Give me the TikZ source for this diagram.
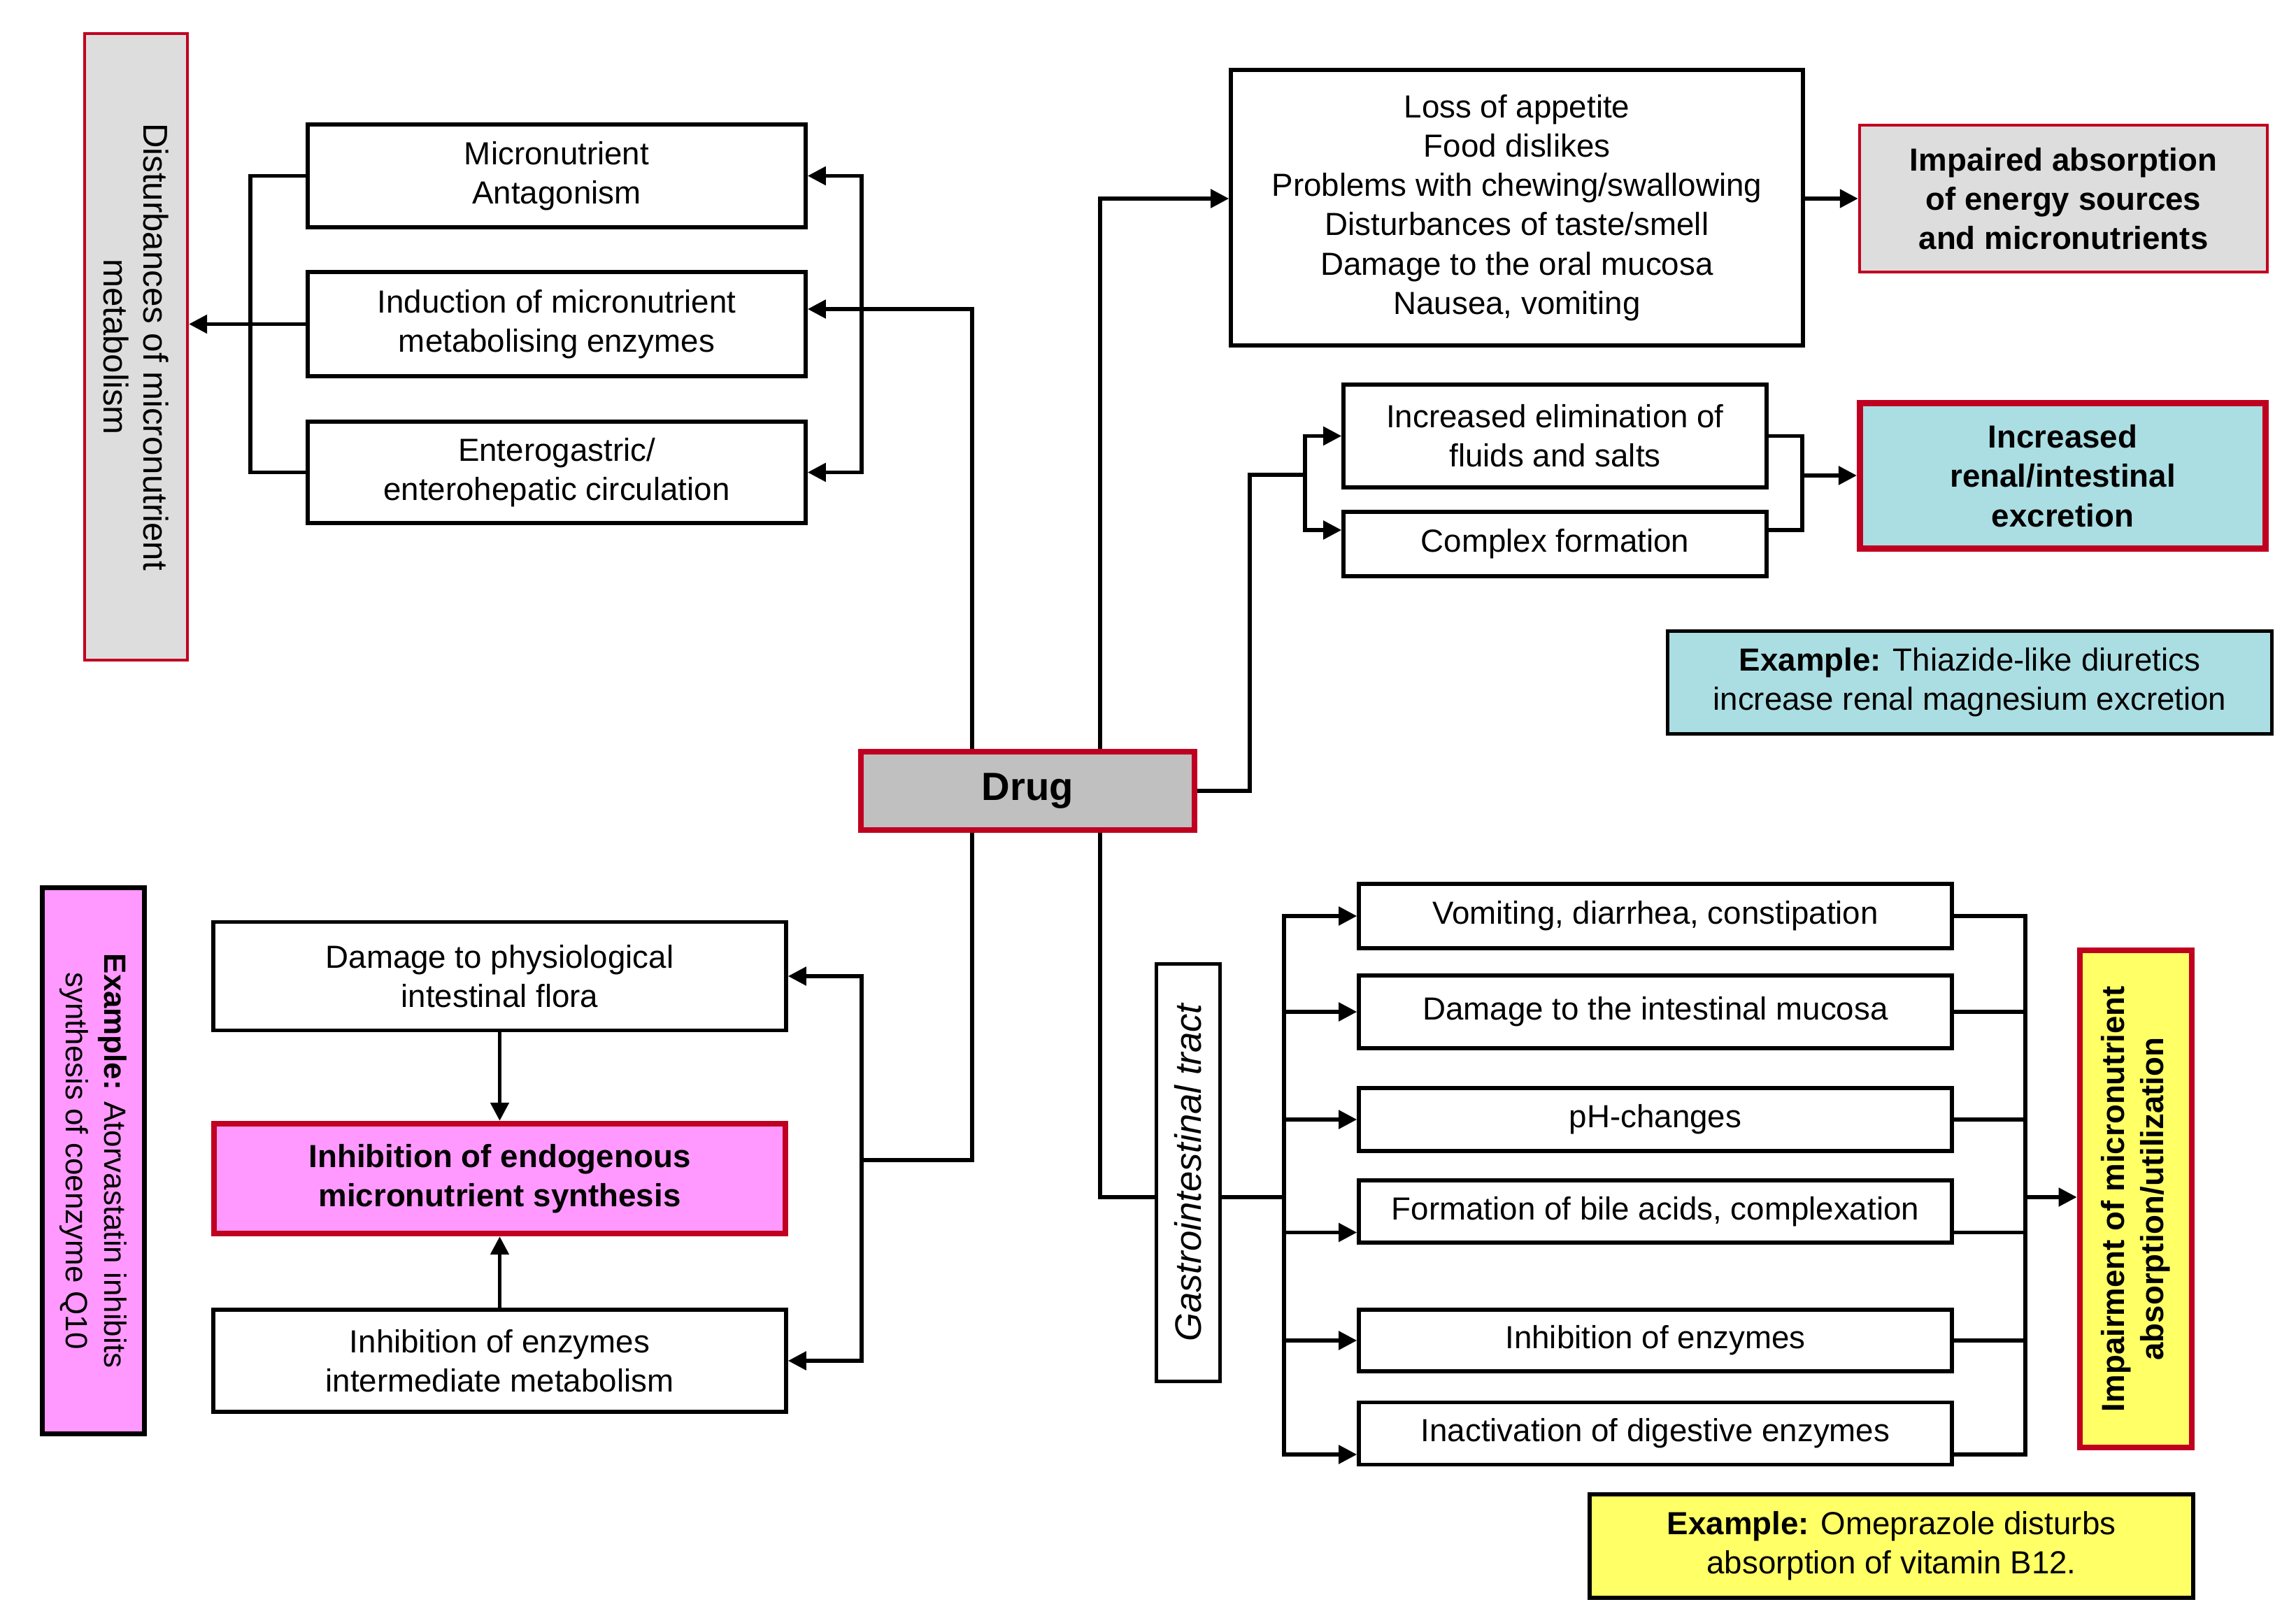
\documentclass[tikz,border=0pt]{standalone}
\usepackage{fontspec}
\setmainfont{Liberation Sans}
\usetikzlibrary{arrows.meta}
\definecolor{drugred}{HTML}{C00020}
\definecolor{lightgrey}{HTML}{DDDDDD}
\definecolor{druggrey}{HTML}{C0C0C0}
\definecolor{cyanish}{HTML}{AADEE3}
\definecolor{pinkish}{HTML}{FF99FF}
\definecolor{yellowish}{HTML}{FFFF66}
\tikzset{
  box/.style={draw, line width=1.6pt, align=center, inner sep=2pt, font=\fontsize{13}{16}\selectfont},
  keybox/.style={box, draw=drugred},
  bold/.style={font=\fontsize{13}{16}\selectfont\bfseries},
  link/.style={line width=1.5pt},
  arr/.style={link, -{Triangle[length=2.6mm,width=2.6mm]}}
}
\begin{document}
\begin{tikzpicture}
\useasboundingbox (0,0) rectangle (32.83,23.2);

% metabolism branch
\node[keybox, line width=1.2pt, fill=lightgrey, rotate=-90, minimum width=8.96cm, minimum height=1.47cm, font=\fontsize{14}{16}\selectfont] (dist) at (1.945,18.24) {Disturbances of micronutrient\\metabolism};
\node[box, minimum width=7.12cm, minimum height=1.47cm] (ant) at (7.96,20.685) {Micronutrient\\Antagonism};
\node[box, minimum width=7.12cm, minimum height=1.49cm] (ind) at (7.96,18.565) {Induction of micronutrient\\metabolising enzymes};
\node[box, minimum width=7.12cm, minimum height=1.45cm] (ent) at (7.96,16.445) {Enterogastric/\\enterohepatic circulation};

% intake branch
\node[box, minimum width=8.18cm, minimum height=3.94cm] (loss) at (21.69,20.23) {Loss of appetite\\Food dislikes\\Problems with chewing/swallowing\\Disturbances of taste/smell\\Damage to the oral mucosa\\Nausea, vomiting};
\node[keybox, line width=1.3pt, fill=lightgrey, minimum width=5.83cm, minimum height=2.10cm, bold] (imp) at (29.505,20.36) {Impaired absorption\\of energy sources\\and micronutrients};

% excretion branch
\node[box, minimum width=6.05cm, minimum height=1.47cm] (elim) at (22.235,16.965) {Increased elimination of\\fluids and salts};
\node[box, minimum width=6.05cm, minimum height=0.92cm] (cplx) at (22.235,15.42) {Complex formation};
\node[keybox, line width=2.6pt, fill=cyanish, minimum width=5.80cm, minimum height=2.08cm, bold] (renal) at (29.495,16.395) {Increased\\renal/intestinal\\excretion};
\node[box, fill=cyanish, minimum width=8.64cm, minimum height=1.47cm] (thia) at (28.165,13.44) {\textbf{Example:} Thiazide-like diuretics\\increase renal magnesium excretion};

\node[keybox, line width=2.5pt, fill=druggrey, minimum width=4.77cm, minimum height=1.12cm, font=\fontsize{16}{18}\selectfont\bfseries] (drug) at (14.695,11.89) {Drug};

% gastrointestinal branch
\node[box, rotate=90, minimum width=5.97cm, minimum height=0.91cm, font=\fontsize{15}{18}\selectfont\itshape] (gi) at (16.99,6.43) {Gastrointestinal tract};
\node[box, minimum width=8.48cm, minimum height=0.915cm] (vom) at (23.67,10.10) {Vomiting, diarrhea, constipation};
\node[box, minimum width=8.48cm, minimum height=1.04cm] (dmuc) at (23.67,8.73) {Damage to the intestinal mucosa};
\node[box, minimum width=8.48cm, minimum height=0.905cm] (ph) at (23.67,7.19) {pH-changes};
\node[box, minimum width=8.48cm, minimum height=0.89cm] (bile) at (23.67,5.875) {Formation of bile acids, complexation};
\node[box, minimum width=8.48cm, minimum height=0.875cm] (inh) at (23.67,4.03) {Inhibition of enzymes};
\node[box, minimum width=8.48cm, minimum height=0.89cm] (inact) at (23.67,2.70) {Inactivation of digestive enzymes};
\node[keybox, line width=2.5pt, fill=yellowish, rotate=90, minimum width=7.11cm, minimum height=1.60cm, bold] (impair) at (30.54,6.055) {Impairment of micronutrient\\absorption/utilization};
\node[box, fill=yellowish, minimum width=8.63cm, minimum height=1.48cm] (omep) at (27.045,1.09) {\textbf{Example:} Omeprazole disturbs\\absorption of vitamin B12.};

% synthesis branch
\node[box, minimum width=8.19cm, minimum height=1.55cm] (flora) at (7.145,9.24) {Damage to physiological\\intestinal flora};
\node[keybox, line width=2.4pt, fill=pinkish, minimum width=8.17cm, minimum height=1.57cm, bold] (endo) at (7.145,6.345) {Inhibition of endogenous\\micronutrient synthesis};
\node[box, minimum width=8.19cm, minimum height=1.46cm] (enz) at (7.145,3.74) {Inhibition of enzymes\\intermediate metabolism};
\node[box, line width=1.8pt, fill=pinkish, rotate=-90, minimum width=7.81cm, minimum height=1.46cm, font=\fontsize{12.5}{15.5}\selectfont] (ator) at (1.335,6.60) {\textbf{Example:} Atorvastatin inhibits\\synthesis of coenzyme Q10};

\coordinate (lb) at (3.58,0);
\coordinate (ja) at (13.90,18.78);
\coordinate (jb) at (13.90,6.61);
\coordinate (bb) at (12.32,6.61);
\coordinate (rb) at (12.32,0);
\coordinate (jc) at (15.73,20.36);
\coordinate (jd) at (17.87,16.41);
\coordinate (be) at (18.66,16.41);
\coordinate (bx) at (25.77,16.40);
\coordinate (je) at (15.73,6.08);
\coordinate (gb) at (18.36,6.08);
\coordinate (gr) at (28.96,6.08);

\draw[link] (ant.west) -- (ant.west -| lb) |- (ent.west);
\draw[arr] (ind.west) -- (dist.north |- ind.west);
\draw[arr] (drug.north -| ja) -- (ja) -- (ind.east |- ja);
\draw[arr] (ent.east -| rb) |- (ant.east);
\draw[arr] (ant.east -| rb) |- (ent.east);

\draw[arr] (drug.north -| jc) -- (jc) -- (loss.west |- jc);
\draw[arr] (loss.east |- imp.west) -- (imp.west);

\draw[link] (drug.east) -| (jd) -- (be);
\draw[arr] (be) |- (elim.west);
\draw[arr] (be) |- ([yshift=2mm]cplx.west);
\draw[link] (elim.east) -| (bx) |- ([yshift=2mm]cplx.east);
\draw[arr] (bx) -- (renal.west |- bx);

\draw[link] (drug.south -| jb) -- (jb) -- (bb);
\draw[arr] (bb) |- (flora.east);
\draw[arr] (bb) |- (enz.east);
\draw[arr] (flora.south) -- (endo.north);
\draw[arr] (enz.north) -- (endo.south);

\draw[link] (drug.south -| je) |- (gi.north |- je);
\draw[link] (gi.south |- gb) -- (gb);
\foreach \nd in {vom,dmuc,ph,inh} {
  \draw[arr] (gb) |- (\nd.west);
  \draw[link] (\nd.east) -| (gr);
}
\foreach \nd in {bile,inact} {
  \draw[arr] (gb) |- ([yshift=-3mm]\nd.west);
  \draw[link] ([yshift=-3mm]\nd.east) -| (gr);
}
\draw[arr] (gr) -- (impair.north |- gr);
\end{tikzpicture}
\end{document}
